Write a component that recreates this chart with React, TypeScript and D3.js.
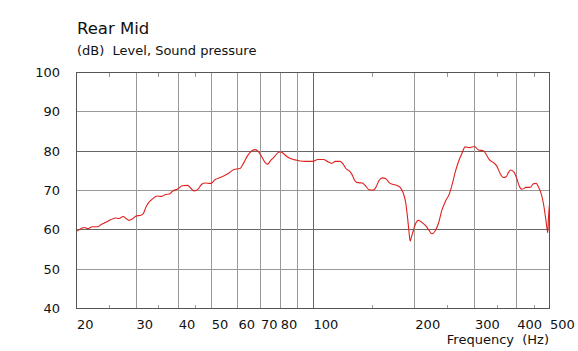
import React, { useRef, useEffect } from "react";
import * as d3 from "d3";

const fontFamily = "'DejaVu Sans', Verdana, sans-serif";

// frequency (Hz)
const freqs = [
  20.1, 20.6, 21.1, 21.6, 22.3, 23.1, 23.6, 24.4, 25.3, 26.1, 26.7, 27.5, 28.0, 28.6, 29.3,
  30.0, 31.0, 31.5, 32.1, 32.8, 33.5, 34.6, 35.7, 36.7, 37.6, 38.4, 39.8, 41.1, 42.6, 43.6,
  44.5, 45.9, 46.9, 48.0, 49.9, 51.4, 53.2, 55.0, 56.6, 58.2, 60.9, 62.3, 64.0, 66.0, 67.5,
  69.0, 70.6, 72.2, 73.4, 75.1, 77.3, 79.1, 80.4, 81.8, 84.1, 86.6, 89.6, 91.6, 94.8, 99.6,
  103.4, 107.4, 110.7, 113.7, 116.3, 120.3, 123.0, 125.1, 128.2, 130.3, 133.2, 135.7, 140.0,
  142.6, 146.6, 150.9, 153.4, 156.9, 160.5, 164.2, 167.9, 171.7, 176.9, 181.0, 185.1, 188.1,
  190.2, 192.0, 193.7, 195.4, 198.1, 200.4, 204.9, 209.8, 214.5, 219.4, 224.5, 229.6, 234.8,
  240.4, 245.8, 253.1, 258.3, 263.1, 269.1, 275.4, 281.6, 290.0, 300.1, 308.3, 319.0, 324.9,
  331.6, 341.5, 349.4, 357.4, 365.5, 372.3, 378.2, 384.4, 393.1, 400.4, 406.7, 414.3, 426.6,
  438.4, 448.4, 456.6, 463.8, 472.4, 479.8, 486.4, 491.0, 494.3, 496.4, 500.0
];

// sound pressure level (dB)
const levels = [
  59.7, 60.3, 60.6, 60.3, 60.8, 60.8, 61.3, 61.9, 62.6, 63.0, 62.9, 63.4, 62.9, 62.4, 62.8,
  63.5, 63.7, 64.1, 65.8, 67.1, 67.8, 68.6, 68.5, 69.0, 69.1, 69.8, 70.4, 71.2, 71.3, 70.5,
  69.9, 70.5, 71.6, 71.9, 71.8, 72.8, 73.3, 73.9, 74.5, 75.3, 75.6, 76.9, 78.8, 80.1, 80.4,
  79.9, 78.5, 77.1, 76.7, 77.7, 78.8, 79.7, 79.8, 79.4, 78.5, 78.0, 77.7, 77.5, 77.4, 77.4,
  77.9, 77.9, 77.3, 76.9, 77.4, 77.4, 76.6, 75.6, 74.9, 74.1, 72.4, 72.0, 71.9,
  71.3, 70.2, 70.1, 70.8, 72.6, 73.2, 73.0, 72.0, 71.6, 71.3, 70.8, 69.2, 66.7,
  63.3, 59.9, 57.1, 58.2, 59.9, 61.3, 62.4, 61.9, 61.2, 60.1, 59.0, 59.7, 61.6,
  65.0, 67.1, 69.2, 71.8, 74.6, 77.3, 79.4, 81.1, 80.9, 81.2, 80.3, 80.1, 79.2,
  77.9, 77.1, 76.2, 74.3, 73.3, 73.5, 74.6, 75.2, 74.6, 73.0, 71.2, 70.3, 70.8,
  70.8, 71.7, 71.8, 70.9, 69.2, 66.7, 63.3, 60.7, 59.3, 62.9, 66.4
];

const xMajor = [30, 40, 50, 60, 70, 80, 90, 100, 200, 300, 400];
const xMinor = [25, 35, 45, 150, 250, 350, 450];
const xLabels = [20, 30, 40, 50, 60, 70, 80, 100, 200, 300, 400, 500];
const yTicks = [40, 50, 60, 70, 80, 90, 100];
const darkX = [100];
const darkY = [60, 80];

export default function App() {
  const ref = useRef<SVGSVGElement>(null);
  const width = 578;
  const height = 351;

  useEffect(() => {
    const left = 76.5, right = 549.5, top = 72.5, bottom = 308.5;
    const frameColor = "#555";
    const lightColor = "#999";

    const svg = d3.select(ref.current);
    svg.selectAll("*").remove();
    svg.style("font-family", fontFamily).style("background", "#fff");

    const x = d3.scaleLog().domain([20, 500]).range([left, right]);
    const y = d3.scaleLinear().domain([40, 100]).range([bottom, top]);
    const px = (v: number) => Math.round(v - 0.5) + 0.5;

    // title
    svg.append("text")
      .attr("x", 77).attr("y", 34)
      .attr("font-size", 16.5).attr("fill", "#111")
      .text("Rear Mid");
    svg.append("text")
      .attr("x", 77).attr("y", 55)
      .attr("font-size", 13).attr("fill", "#111")
      .style("white-space", "pre")
      .text("(dB)  Level, Sound pressure");

    const g = svg.append("g").attr("shape-rendering", "crispEdges");

    // horizontal grid
    g.selectAll("line.hgrid")
      .data(yTicks.filter(d => d > 40 && d < 100))
      .join("line")
      .attr("x1", left).attr("x2", right)
      .attr("y1", d => px(y(d))).attr("y2", d => px(y(d)))
      .attr("stroke", d => (darkY.includes(d) ? "#666" : lightColor))
      .attr("stroke-width", 1);

    // vertical grid
    g.selectAll("line.vgrid")
      .data(xMajor)
      .join("line")
      .attr("x1", d => px(x(d))).attr("x2", d => px(x(d)))
      .attr("y1", top).attr("y2", bottom)
      .attr("stroke", d => (darkX.includes(d) ? "#666" : lightColor))
      .attr("stroke-width", 1);

    // minor ticks top and bottom
    g.selectAll("line.mtop")
      .data(xMinor)
      .join("line")
      .attr("x1", d => px(x(d))).attr("x2", d => px(x(d)))
      .attr("y1", top).attr("y2", top + 4)
      .attr("stroke", lightColor);
    g.selectAll("line.mbot")
      .data(xMinor)
      .join("line")
      .attr("x1", d => px(x(d))).attr("x2", d => px(x(d)))
      .attr("y1", bottom - 4).attr("y2", bottom)
      .attr("stroke", lightColor);

    // frame
    g.append("rect")
      .attr("x", left).attr("y", top)
      .attr("width", right - left).attr("height", bottom - top)
      .attr("fill", "none").attr("stroke", frameColor).attr("stroke-width", 1);

    // y labels
    svg.selectAll("text.ylab")
      .data(yTicks)
      .join("text")
      .attr("x", 60).attr("y", d => y(d) + 4.5)
      .attr("text-anchor", "end")
      .attr("font-size", 13).attr("fill", "#111")
      .text(d => d);

    // x labels
    svg.selectAll("text.xlab")
      .data(xLabels)
      .join("text")
      .attr("x", d => x(d) + 0.5).attr("y", 329)
      .attr("font-size", 13).attr("fill", "#111")
      .text(d => d);

    svg.append("text")
      .attr("x", 549).attr("y", 344)
      .attr("text-anchor", "end")
      .attr("font-size", 13).attr("fill", "#111")
      .style("white-space", "pre")
      .text("Frequency  (Hz)");

    // response curve
    const pts: [number, number][] = freqs.map((f, i) => [f, levels[i]]);
    const line = d3.line<[number, number]>()
      .x(d => x(d[0]))
      .y(d => y(d[1]))
      .curve(d3.curveMonotoneX);
    svg.append("path")
      .datum(pts)
      .attr("d", line)
      .attr("fill", "none")
      .attr("stroke", "#e0201c")
      .attr("stroke-width", 1.1);
  }, []);

  return (
    <svg
      ref={ref}
      width={width}
      height={height}
      style={{ position: "absolute", left: 0, top: 0 }}
    ></svg>
  );
}
